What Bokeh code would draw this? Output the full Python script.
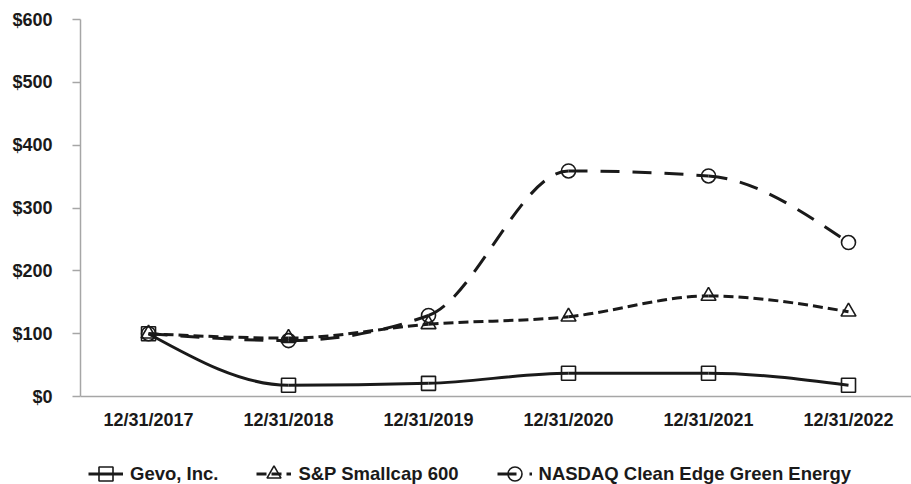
from bokeh.plotting import figure
from bokeh.models import FixedTicker, Legend, LegendItem, ColumnDataSource, Range1d
from bokeh.embed import file_html
from bokeh.resources import INLINE

# ---- data ----
dates = ["12/31/2017", "12/31/2018", "12/31/2019", "12/31/2020", "12/31/2021", "12/31/2022"]
x_pos = [0, 1, 2, 3, 4, 5]
gevo = [100, 18, 21, 37, 37, 18]
sp600 = [100, 93, 115, 127, 160, 135]
nasdaq = [100, 89, 129, 359, 351, 245]
series_names = ["Gevo, Inc.", "S&P Smallcap 600", "NASDAQ Clean Edge Green Energy"]
y_ticks = [0, 100, 200, 300, 400, 500, 600]
y_labels = ["$0", "$100", "$200", "$300", "$400", "$500", "$600"]

FONT = "Liberation Sans"
INK = "#1a1a1a"
GRAY = "#a6a6a6"
NAN = float("nan")


def _sign(v):
    return (v > 0) - (v < 0)


def smooth_source(xs, ys):
    """Monotone cubic (Bezier form) through the data points."""
    n = len(xs)
    h = [xs[i + 1] - xs[i] for i in range(n - 1)]
    s = [(ys[i + 1] - ys[i]) / h[i] for i in range(n - 1)]
    m = [0.0] * n
    for i in range(1, n - 1):
        pp = (s[i - 1] * h[i] + s[i] * h[i - 1]) / (h[i - 1] + h[i])
        m[i] = (_sign(s[i - 1]) + _sign(s[i])) * min(abs(s[i - 1]), abs(s[i]), 0.5 * abs(pp))
    m[0] = (3 * s[0] - m[1]) / 2
    m[-1] = (3 * s[-1] - m[-2]) / 2
    d = dict(x0=[], y0=[], x1=[], y1=[], cx0=[], cy0=[], cx1=[], cy1=[])
    for i in range(n - 1):
        dx = h[i] / 3
        d["x0"].append(xs[i]); d["y0"].append(ys[i])
        d["x1"].append(xs[i + 1]); d["y1"].append(ys[i + 1])
        d["cx0"].append(xs[i] + dx); d["cy0"].append(ys[i] + m[i] * dx)
        d["cx1"].append(xs[i + 1] - dx); d["cy1"].append(ys[i + 1] - m[i + 1] * dx)
    return ColumnDataSource(d)


# frame runs to the bottom edge so the legend below the x axis is not clipped;
# the x axis itself is pinned at y = 0
p = figure(width=911, height=484, output_backend="svg", toolbar_location=None,
           x_range=Range1d(-0.486, 5.45), y_range=Range1d(-140, 600),
           min_border_left=80, min_border_right=0, min_border_top=19, min_border_bottom=0)
p.outline_line_color = None
p.xgrid.visible = False
p.ygrid.visible = False
p.background_fill_color = "white"
p.border_fill_color = "white"

# axes
p.yaxis.ticker = FixedTicker(ticks=y_ticks)
p.yaxis.major_label_overrides = {t: l for t, l in zip(y_ticks, y_labels)}
p.yaxis.bounds = (0, 600)
p.yaxis.minor_tick_line_color = None
p.yaxis.major_tick_out = 8
p.yaxis.major_tick_in = 0
p.yaxis.major_tick_line_color = GRAY
p.yaxis.major_tick_line_width = 1.5
p.yaxis.axis_line_color = GRAY
p.yaxis.axis_line_width = 1.5
p.yaxis.major_label_standoff = 20

p.xaxis.fixed_location = 0
p.xaxis.ticker = FixedTicker(ticks=x_pos)
p.xaxis.major_label_overrides = {x: d for x, d in zip(x_pos, dates)}
p.xaxis.minor_tick_line_color = None
p.xaxis.major_tick_line_color = None
p.xaxis.major_tick_out = 0
p.xaxis.major_tick_in = 0
p.xaxis.axis_line_color = GRAY
p.xaxis.axis_line_width = 1.5
p.xaxis.major_label_standoff = 13

for ax in (p.xaxis, p.yaxis):
    ax.major_label_text_font = FONT
    ax.major_label_text_font_style = "bold"
    ax.major_label_text_font_size = "18px"
    ax.major_label_text_color = INK

styles = [
    dict(ys=gevo, dash="solid", marker="square", size=14),
    dict(ys=sp600, dash="10 5", marker="triangle", size=15),
    dict(ys=nasdaq, dash="19 13", marker="circle", size=14),
]

items = []
for name, st in zip(series_names, styles):
    src = smooth_source(x_pos, st["ys"])
    p.bezier(x0="x0", y0="y0", x1="x1", y1="y1", cx0="cx0", cy0="cy0", cx1="cx1", cy1="cy1",
             source=src, line_color=INK, line_width=3, line_dash=st["dash"])
    # line renderer used only for the legend swatch (draws nothing in the plot)
    leg_line = p.line(x=[NAN], y=[NAN], line_color=INK, line_width=3, line_dash=st["dash"])
    sc = p.scatter(x=x_pos, y=st["ys"], marker=st["marker"], size=st["size"],
                   line_color=INK, line_width=1.6, fill_alpha=0)
    items.append(LegendItem(label=name, renderers=[leg_line, sc]))

legend = Legend(items=items, orientation="horizontal", location=(8, -7),
                glyph_width=35, glyph_height=35, label_standoff=7, spacing=38,
                padding=0, margin=0, border_line_color=None, background_fill_alpha=0,
                label_text_font=FONT, label_text_font_style="bold",
                label_text_font_size="18.5px", label_text_color=INK)
p.add_layout(legend, "center")

open("out.html", "w").write(file_html(p, INLINE))
